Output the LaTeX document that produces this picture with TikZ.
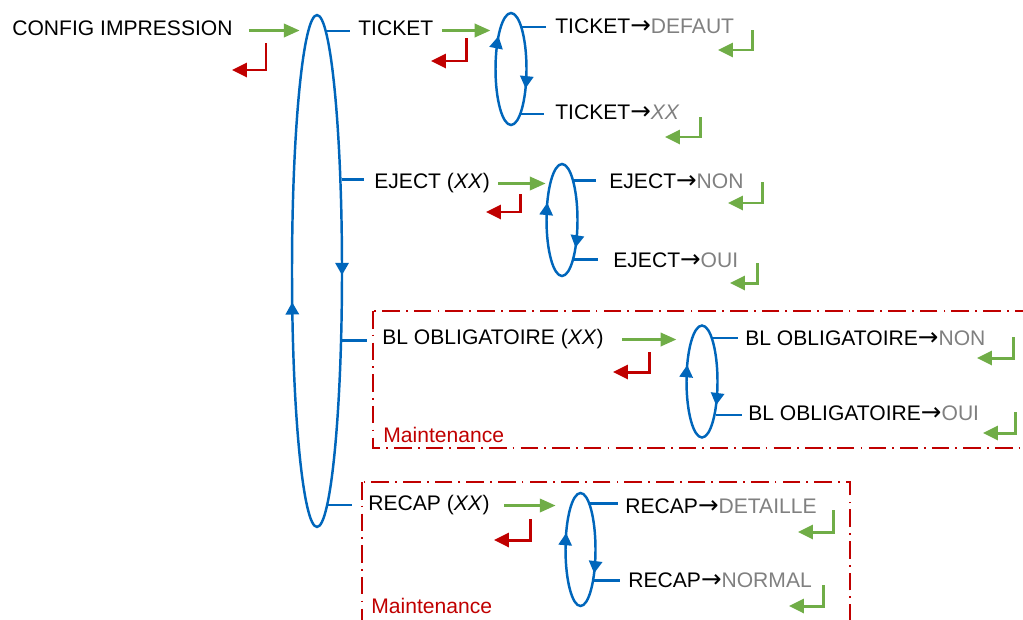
\documentclass[tikz,border=0pt]{standalone}
\usepackage{fontspec}
\setmainfont{Liberation Sans}
\newfontfamily\symfont{DejaVu Sans}
\usetikzlibrary{arrows.meta,shapes.geometric,decorations.markings}
\definecolor{blu}{RGB}{0,102,187}
\definecolor{grn}{RGB}{112,173,71}
\definecolor{rd}{RGB}{192,0,0}
\definecolor{gry}{RGB}{128,128,128}
\newcommand{\opt}[1]{\textcolor{gry}{#1}}
\newcommand{\fl}{{\symfont\fontsize{14}{14}\selectfont →}}

\begin{document}
\begin{tikzpicture}[
    x=0.02cm, y=-0.02cm,
    every node/.style={font=\fontsize{12}{14}\selectfont},
    txt/.style={anchor=west, inner sep=0pt, text height=8.6pt, text depth=2.8pt},
    ring/.style 2 args={draw=blu, line width=1.4pt, ellipse, inner sep=0pt,
        minimum width=0.62cm, minimum height=2.24cm,
        decoration={markings,
            mark=at position #1 with {\arrowreversed{Triangle[length=7pt,width=7.5pt]}},
            mark=at position #2 with {\arrowreversed{Triangle[length=7pt,width=7.5pt]}}},
        postaction={decorate}},
    link/.style={draw=blu, line width=1.4pt},
    go/.style={draw=grn, line width=1.7pt, -{Triangle[length=9pt,width=7.5pt]}},
    ok/.style={draw=grn, line width=1.7pt, -{Triangle[length=8.5pt,width=8pt]}},
    esc/.style={draw=rd, line width=1.7pt, -{Triangle[length=8.5pt,width=8pt]}},
    zone/.style={draw=rd, line width=1pt, dash pattern=on 10pt off 3.5pt on 1pt off 3.5pt}
]
\useasboundingbox (0,0) rectangle (1023,619);
\clip (0,0) rectangle (1023,619);

% maintenance zones
\draw[zone] (373,311) rectangle (1040,448);
\draw[zone] (362,482) rectangle (850,640);
\node[anchor=base west, inner sep=0pt, text=rd] (mt1) at (383,442) {Maintenance};
\node[anchor=base west, inner sep=0pt, text=rd] (mt2) at (371,613) {Maintenance};

% loops
\node[ring={0.53}{0.996}, minimum width=1cm, minimum height=10.24cm] (big) at (317,271) {};
\node[ring={0.364}{0.92}] (loopT) at (511,69) {};
\node[ring={0.429}{0.886}] (loopE) at (562,220) {};
\node[ring={0.432}{0.902}] (loopB) at (702,381.5) {};
\node[ring={0.432}{0.902}, minimum width=0.6cm, minimum height=2.26cm] (loopR) at (580.5,549.5) {};
\coordinate (bigT) at ([shift={(9.2,-240)}]big.center);
\coordinate (bigR) at ([shift={(10.4,234)}]big.center);

% texts
\node[txt] (config) at (12,30.5) {CONFIG IMPRESSION};
\node[txt] (ticket) at (358,30.5) {TICKET};
\node[txt] (tdef) at (555,28.5) {TICKET\fl\opt{DEFAUT}};
\node[txt] (txx) at (555,114.5) {TICKET\fl\opt{\textit{XX}}};
\node[txt] (eject) at (374,183.5) {EJECT (\textit{XX})};
\node[txt] (enon) at (609,183) {EJECT\fl\opt{NON}};
\node[txt] (eoui) at (613,262) {EJECT\fl\opt{OUI}};
\node[txt] (bl) at (382,339.5) {BL OBLIGATOIRE (\textit{XX})};
\node[txt] (blnon) at (745,340.5) {BL OBLIGATOIRE\fl\opt{NON}};
\node[txt] (bloui) at (748,415.5) {BL OBLIGATOIRE\fl\opt{OUI}};
\node[txt] (recap) at (368,505.5) {RECAP (\textit{XX})};
\node[txt] (rdet) at (625,508.5) {RECAP\fl\opt{DETAILLE}};
\node[txt] (rnor) at (628,582.5) {RECAP\fl\opt{NORMAL}};

% branches
\draw[link, shorten >=4.6pt] (bigT) -- (bigT -| ticket.west);
\draw[link, shorten >=5.7pt] (big.75) -- (big.75 -| eject.west);
\draw[link, shorten >=8.5pt] (big.-70) -- (big.-70 -| bl.west);
\draw[link, shorten >=9.1pt] (bigR) -- (bigR -| recap.west);
\draw[link, shorten >=5.1pt] (loopT.75) -- (loopT.75 -| tdef.west);
\draw[link, shorten >=6.3pt] (loopT.-77) -- (loopT.-77 -| txx.west);
\draw[link, shorten >=7.4pt] (loopE.73) -- (loopE.73 -| enon.west);
\draw[link, shorten >=8.5pt] (loopE.-73) -- (loopE.-73 -| eoui.west);
\draw[link, shorten >=4pt] (loopB.76) -- (loopB.76 -| blnon.west);
\draw[link, shorten >=3.4pt] (loopB.-68) -- (loopB.-68 -| bloui.west);
\draw[link, shorten >=4pt] (loopR.78) -- (loopR.78 -| rdet.west);
\draw[link, shorten >=4.6pt] (loopR.-66) -- (loopR.-66 -| rnor.west);

% enter
\draw[go, shorten <=9.1pt, shorten >=5pt] (config.east) -- (config.east -| big.92);
\draw[go, shorten <=4.6pt, shorten >=4.8pt] (ticket.east) -- (ticket.east -| loopT.107);
\draw[go, shorten <=4.6pt, shorten >=2.4pt] (eject.east) -- (eject.east -| loopE.107);
\draw[go, shorten <=10.2pt, shorten >=8.1pt] (bl.east) -- (bl.east -| loopB.105);
\draw[go, shorten <=8pt, shorten >=8pt] (recap.east) -- (recap.east -| loopR.104);

% escape
\foreach \x/\ya/\yb/\xt in {266/43/70/232, 466/38/61/431, 520/194/212/486,
    649/352/372/613, 530/519/540/494}
  \draw[esc] (\x,\ya) |- (\xt,\yb);

% validate
\foreach \x/\ya/\yb/\xt in {752/30/50/718, 700/117/137/665, 762/182/203/728,
    757/263/283/730, 1013/337/358/977, 1015/412/433/983, 833/510/532/798, 823/585/606/789}
  \draw[ok] (\x,\ya) |- (\xt,\yb);
\end{tikzpicture}
\end{document}
